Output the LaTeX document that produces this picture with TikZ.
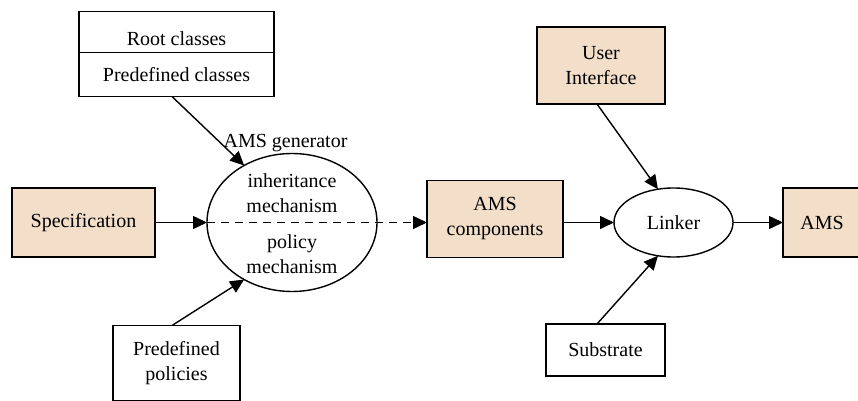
\documentclass[tikz,border=0pt]{standalone}
\usepackage{fontspec}
\setmainfont{Liberation Serif}
\usepackage{xcolor}
\usetikzlibrary{positioning,shapes.geometric,arrows.meta,calc}
\definecolor{bisquebox}{RGB}{242,222,201}

\begin{document}
\begin{tikzpicture}
      [ x=0.5pt, y=-0.5pt,
        font=\fontsize{10}{12.5}\selectfont,
        every node/.style={align=center},
        box/.style={draw, line width=0.7pt, inner sep=2pt, outer sep=0pt},
        tanbox/.style={box, fill=bisquebox},
        blob/.style={draw, ellipse, line width=0.7pt, inner sep=0pt, outer sep=0pt},
        arr/.style={line width=0.7pt, -{Triangle[length=7pt,width=6.5pt]}}
      ]
      \useasboundingbox (0,0) rectangle (858,401);

      \node[tanbox, minimum width=71.5pt, minimum height=34.5pt] (spec) at (83.5,222.5) {Specification};
      \node[blob, minimum width=85pt, minimum height=69pt]       (gen)    [right=26pt of spec]              {};
      \node[inner sep=0pt]                                       (genlbl) [above=0.5pt of gen, xshift=-3.25pt] {AMS generator};
      \node[inner sep=0pt]                                       (inh)    [above=4.5pt of gen.center]        {inheritance\\mechanism};
      \node[inner sep=0pt]                                       (polm)   [below=6pt of gen.center]          {policy\\mechanism};
      \node[box, minimum width=97.5pt, minimum height=22pt]      (predc)  [above=28.5pt of gen, xshift=-57.75pt] {Predefined classes};
      \node[box, minimum width=97.5pt, minimum height=20.5pt]    (rootc)  [above=0pt of predc]              {\raisebox{-3.5pt}[\height][\depth]{Root classes}};
      \node[box, minimum width=63.5pt, minimum height=37.5pt]    (pol)    [below=17pt of gen, xshift=-57.75pt]  {Predefined\\policies};
      \node[tanbox, minimum width=68pt, minimum height=38.5pt]   (comp)   [right=25pt of gen, yshift=1.75pt] {AMS\\components};
      \node[blob, minimum width=59.5pt, minimum height=34.5pt]   (linker) [right=25.5pt of comp, yshift=-1.75pt] {Linker};
      \node[tanbox, minimum width=39pt, minimum height=34.5pt]   (ams)    [right=25pt of linker]            {AMS};
      \node[tanbox, minimum width=64pt, minimum height=38.5pt]   (ui)     [above=42pt of linker, xshift=-36.25pt] {User\\Interface};
      \node[box, minimum width=59.5pt, minimum height=26pt]      (subs)   [below=33.5pt of linker, xshift=-34pt]  {Substrate};

      \path[arr] (spec)   edge (gen)
                 (linker) edge (ams);
      \draw[arr] ($(predc.south)+(-4.5,0)$) -- (gen.130);
      \draw[arr] ($(pol.north)+(-4.5,0)$)   -- (gen.230);
      \draw[arr, dash pattern=on 4pt off 3pt] (gen.west) -- (gen.west -| comp.west);
      \draw[arr] (comp.east |- linker.west) -- (linker.west);
      \draw[arr] ($(ui.south)+(-4,0)$)      -- (linker.115);
      \draw[arr] ($(subs.north)+(-8.5,0)$)  -- (linker.245);
\end{tikzpicture}
\end{document}
